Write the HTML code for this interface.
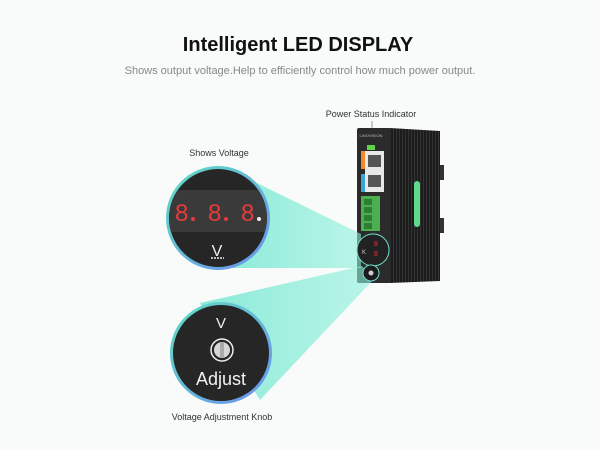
<!DOCTYPE html>
<html><head><meta charset="utf-8"><style>
html,body{margin:0;padding:0;background:#f8fbfa;}
svg{display:block;}
</style></head><body>
<svg width="600" height="450" viewBox="0 0 600 450" xmlns="http://www.w3.org/2000/svg" font-family="Liberation Sans, sans-serif">
<defs>
<linearGradient id="beam" x1="0" x2="1" y1="0" y2="0">
<stop offset="0" stop-color="#6fe6cf" stop-opacity="0.95"/>
<stop offset="1" stop-color="#8ff0dc" stop-opacity="0.7"/>
</linearGradient>
<linearGradient id="ring" x1="0" y1="0" x2="1" y2="1">
<stop offset="0" stop-color="#5fe0c0"/><stop offset="1" stop-color="#6a8ff0"/>
</linearGradient>
<pattern id="rib" width="3" height="10" patternUnits="userSpaceOnUse">
<rect width="3" height="10" fill="#1c1c1c"/><rect width="1" height="10" fill="#333"/>
</pattern>
</defs>
<rect width="600" height="450" fill="#f8fbfa"/>
<text x="298" y="51" text-anchor="middle" font-size="20" font-weight="bold" fill="#111">Intelligent LED DISPLAY</text>
<text x="300" y="74" text-anchor="middle" font-size="11" fill="#888">Shows output voltage.Help to efficiently control how much power output.</text>
<text x="371" y="117" text-anchor="middle" font-size="9" fill="#333">Power Status Indicator</text>
<line x1="372" y1="121" x2="372" y2="147" stroke="#555" stroke-width="0.6"/>
<text x="219" y="156" text-anchor="middle" font-size="9" fill="#333">Shows Voltage</text>
<text x="222" y="420" text-anchor="middle" font-size="9" fill="#333">Voltage Adjustment Knob</text>

<!-- device -->
<rect x="440" y="165" width="4" height="15" fill="#333"/>
<rect x="440" y="218" width="4" height="15" fill="#333"/>
<polygon points="390,128 440,131 440,281 390,283" fill="url(#rib)"/>
<rect x="357" y="128" width="34" height="155" rx="2" fill="#2b2b2b"/>
<text x="371" y="137" text-anchor="middle" font-size="4" fill="#bbb">LINOVISION</text>
<rect x="367" y="145" width="8" height="5" fill="#5ed34a"/>
<rect x="361" y="151" width="4" height="18" fill="#f08a2a"/>
<rect x="361" y="174" width="4" height="18" fill="#3aa3d8"/>
<rect x="365" y="151" width="19" height="41" fill="#e8e8e8"/>
<rect x="368" y="155" width="13" height="12" fill="#555"/>
<rect x="368" y="175" width="13" height="12" fill="#555"/>
<rect x="361" y="196" width="19" height="35" fill="#4caf50"/>
<rect x="364" y="199" width="8" height="6" fill="#2f7d34"/>
<rect x="364" y="207" width="8" height="6" fill="#2f7d34"/>
<rect x="364" y="215" width="8" height="6" fill="#2f7d34"/>
<rect x="364" y="223" width="8" height="6" fill="#2f7d34"/>
<rect x="414" y="181" width="6" height="46" rx="3" fill="#5cd98a"/>

<!-- beams -->
<polygon points="222,166 361,234 361,268 222,268" fill="url(#beam)" opacity="0.85"/>
<polygon points="362,266 374,279 260,400 200,303" fill="url(#beam)" opacity="0.85"/>

<!-- small circles on device -->
<circle cx="373" cy="250" r="16" fill="#222" stroke="#6fe0cf" stroke-width="1"/>
<text x="374" y="246" font-size="7" fill="#e33">8</text>
<text x="374" y="256" font-size="7" fill="#e33">8</text>
<text x="362" y="254" font-size="6" fill="#ccc">K</text>
<circle cx="371" cy="273" r="8" fill="#1b1b1b" stroke="#6fe0cf" stroke-width="1"/>
<circle cx="371" cy="273" r="2.5" fill="#ccc"/>

<!-- Shows voltage circle -->
<circle cx="218" cy="218" r="52" fill="url(#ring)"/>
<circle cx="218" cy="218" r="49" fill="#262626"/>
<clipPath id="c1"><circle cx="218" cy="218" r="49"/></clipPath>
<rect x="160" y="190" width="120" height="42" fill="#3a3a3a" clip-path="url(#c1)"/>
<g font-size="24" fill="#e83a3a" font-family="Liberation Sans, sans-serif">
<text x="175" y="221">8</text><circle cx="193" cy="219" r="2" fill="#e83a3a"/>
<text x="208" y="221">8</text><circle cx="226" cy="219" r="2" fill="#e83a3a"/>
<text x="241" y="221">8</text><circle cx="259" cy="219" r="2" fill="#eee"/>
</g>
<text x="217" y="256" text-anchor="middle" font-size="16" fill="#eee">V</text>
<line x1="211" y1="258" x2="224" y2="258" stroke="#eee" stroke-width="1.5" stroke-dasharray="2,1"/>

<!-- knob circle -->
<circle cx="221" cy="353" r="51" fill="url(#ring)"/>
<circle cx="221" cy="353" r="48" fill="#262626"/>
<text x="221" y="328" text-anchor="middle" font-size="15" fill="#eee">V</text>
<circle cx="222" cy="350" r="11" fill="none" stroke="#eee" stroke-width="1.5"/>
<circle cx="222" cy="350" r="8" fill="#d6d6d6"/>
<rect x="220" y="342" width="4" height="16" fill="#aaa"/>
<text x="221" y="385" text-anchor="middle" font-size="18" fill="#f2f2f2">Adjust</text>
</svg>
</body></html>
